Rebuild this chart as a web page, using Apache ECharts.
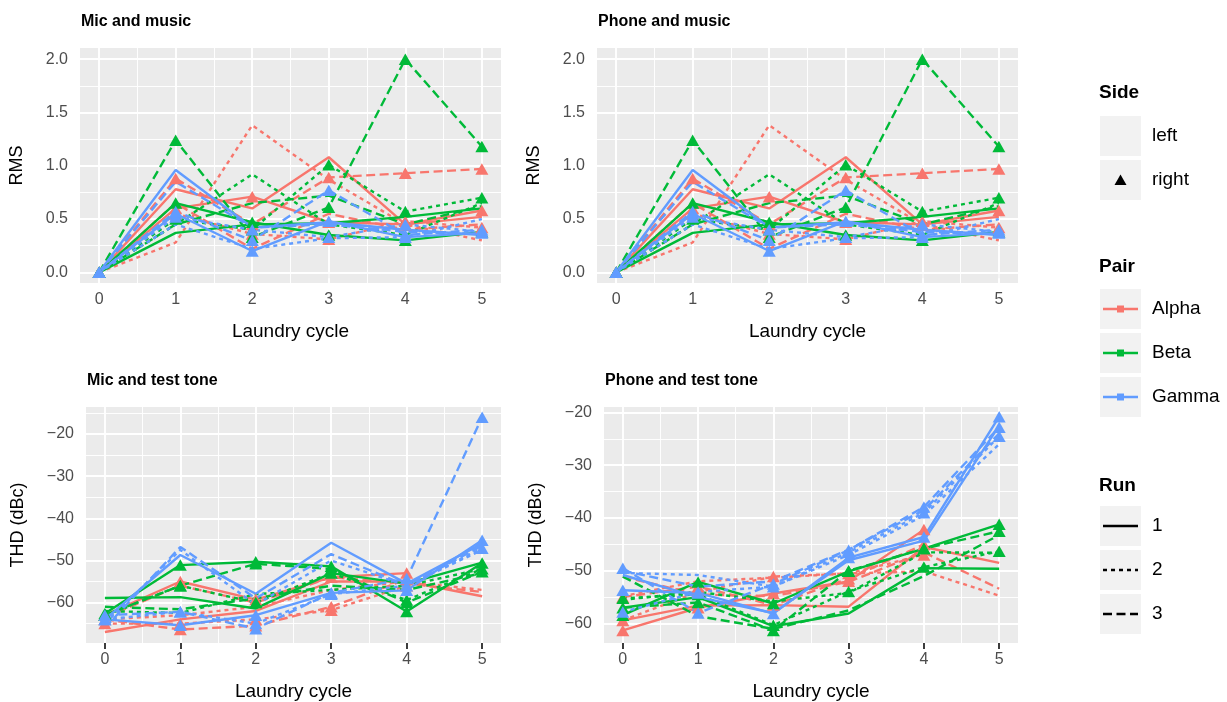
<!DOCTYPE html>
<html><head><meta charset="utf-8">
<script src="https://cdn.jsdelivr.net/npm/echarts@6/dist/echarts.min.js"></script>
<style>html,body{margin:0;padding:0;background:#fff}#c{width:1227px;height:702px}</style>
</head><body><div id="c"></div>
<script>
// ---------- data ----------
const cycles = [0, 1, 2, 3, 4, 5];
const pairNames = ['Alpha', 'Beta', 'Gamma'];
const runNames = ['1', '2', '3'];
const sideNames = ['left', 'right'];
const panelTitles = ['Mic and music', 'Phone and music', 'Mic and test tone', 'Phone and test tone'];
const rmsTicks = [0, 0.5, 1, 1.5, 2];
const thdTicks = [-60, -50, -40, -30, -20];

// rows: run1-left, run1-right, run2-left, run2-right, run3-left, run3-right
const rmsAlpha = [
  [0, 0.78, 0.60, 1.08, 0.45, 0.52],
  [0, 0.60, 0.71, 0.47, 0.45, 0.58],
  [0, 0.28, 1.38, 0.87, 0.45, 0.30],
  [0, 0.55, 0.36, 0.31, 0.48, 0.42],
  [0, 0.65, 0.22, 0.55, 0.40, 0.45],
  [0, 0.88, 0.45, 0.89, 0.93, 0.97]
];
const rmsBeta = [
  [0, 0.37, 0.45, 0.46, 0.52, 0.60],
  [0, 0.65, 0.47, 0.35, 0.30, 0.38],
  [0, 0.45, 0.92, 0.45, 0.35, 0.65],
  [0, 0.50, 0.40, 1.01, 0.57, 0.70],
  [0, 0.45, 0.65, 0.72, 0.45, 0.62],
  [0, 1.24, 0.33, 0.61, 2.00, 1.18]
];
const rmsGamma = [
  [0, 0.96, 0.42, 0.47, 0.40, 0.35],
  [0, 0.55, 0.20, 0.48, 0.33, 0.37],
  [0, 0.45, 0.22, 0.32, 0.33, 0.50],
  [0, 0.52, 0.40, 0.33, 0.45, 0.38],
  [0, 0.85, 0.42, 0.45, 0.38, 0.36],
  [0, 0.57, 0.30, 0.77, 0.35, 0.40]
];
const thdMicAlpha = [
  [-67, -64, -62, -55, -55, -58.5],
  [-63, -55, -59.3, -54, -53, null],
  [-64, -63, -61, -57, -55, -57],
  [-65, -65, -64, -61.8, -56, null],
  [-63.5, -56, -60, -54, -55.5, -57.5],
  [-64, -66.4, -65.5, -61, -54.5, null]
];
const thdMicBeta = [
  [-58.9, -58.7, -61.4, -53, -55.5, -50.5],
  [-62.6, -51.1, -50.3, -51.4, -62.1, -50.6],
  [-62, -62.5, -58, -57, -56, -52],
  [-63, -56, -60, -53, -59.4, -52],
  [-61, -61.6, -59, -56, -57, -53],
  [-63, -56, -50.8, -52, -60, -52.7]
];
const thdMicGamma = [
  [-64, -48.7, -57.9, -45.8, -55.5, -46],
  [-64, -65.4, -63, -57.7, -57.1, -45.2],
  [-65, -47.5, -60.5, -50, -56, -47.5],
  [-64, -62.2, -65, -58, -56, -47.1],
  [-66, -46.8, -59, -48.5, -56, -46.5],
  [-63, -62.2, -66.2, -57.7, -54.3, -16]
];
const thdPhoneAlpha = [
  [-59.4, -56.6, -56.5, -56.8, -45.5, -48.5],
  [-61.3, -57, -54.3, -52, -42.2, null],
  [-54.8, -52, -51.3, -50.5, -50.1, -54.7],
  [-59.4, -54, -51.1, -50.5, -47, null],
  [-51.1, -54.5, -54.8, -52.1, -46.5, -53.4],
  [-55, -53, -56.5, -51.5, -45, null]
];
const thdPhoneBeta = [
  [-57, -55, -60.5, -58.1, -49.5, -49.6],
  [-58.4, -52.1, -56.2, -50.1, -45.8, -41.2],
  [-55.5, -54, -55.8, -54.2, -46.5, -46.6],
  [-55.2, -54.5, -60.3, -53.9, -49.3, -46.3],
  [-51.1, -58.6, -61, -57.5, -51, -43.2],
  [-57, -56, -61.3, -50, -45.8, -42.5]
];
const thdPhoneGamma = [
  [-50.8, -55, -58, -48, -44.3, -22.5],
  [-53.7, -54.2, -58.1, -47.5, -43.6, -20.8],
  [-50.4, -50.8, -53, -47, -39.5, -26],
  [-57.8, -54, -53, -46.5, -39, -24.5],
  [-50, -53, -52, -46, -38.5, -24],
  [-49.5, -58, -52.5, -46.1, -37.9, -22.8]
];

// ---------- styling / layout ----------
const pairColors = ['#F8766D', '#00BA38', '#619CFF'];
const dashTypes = ['solid', [4, 4], [9, 4.5]];
const FONT = 'Liberation Sans, Arial, Helvetica, sans-serif';
const LW = 2.4;

const panelData = [
  [rmsAlpha, rmsBeta, rmsGamma],
  [rmsAlpha, rmsBeta, rmsGamma],
  [thdMicAlpha, thdMicBeta, thdMicGamma],
  [thdPhoneAlpha, thdPhoneBeta, thdPhoneGamma]
];
const grids = [
  {left: 80, top: 48, width: 421, height: 235},
  {left: 597, top: 48, width: 421, height: 235},
  {left: 86, top: 407, width: 415, height: 236},
  {left: 604, top: 407, width: 414, height: 236}
];
const yRanges = [[-0.1, 2.105], [-0.1, 2.105], [-69.6, -13.57], [-63.68, -18.97]];
const yTicks = [rmsTicks, rmsTicks, thdTicks, thdTicks];
const yMinor = [[0.25, 0.75, 1.25, 1.75], [0.25, 0.75, 1.25, 1.75], [-65, -55, -45, -35, -25, -15], [-55, -45, -35, -25]];
const xMinor = [0.5, 1.5, 2.5, 3.5, 4.5];
const yNames = ['RMS', 'RMS', 'THD (dBc)', 'THD (dBc)'];

const xAxes = [], yAxes = [], series = [], titles = [];
for (let p = 0; p < 4; p++) {
  xAxes.push({
    type: 'value', gridIndex: p, min: -0.25, max: 5.25,
    splitLine: {show: false}, axisLine: {show: false},
    axisTick: {show: true, length: 6, lineStyle: {color: '#333333', width: 1.9}, customValues: cycles},
    axisLabel: {customValues: cycles, color: '#4D4D4D', fontSize: 16, fontFamily: FONT, margin: 9},
    name: 'Laundry cycle', nameLocation: 'middle', nameGap: 39,
    nameTextStyle: {color: '#000', fontSize: 19, fontFamily: FONT}
  });
  yAxes.push({
    type: 'value', gridIndex: p, min: yRanges[p][0], max: yRanges[p][1],
    splitLine: {show: false}, axisLine: {show: false},
    axisTick: {show: true, length: 6, lineStyle: {color: '#333333', width: 1.9}, customValues: yTicks[p]},
    axisLabel: {customValues: yTicks[p], color: '#4D4D4D', fontSize: 16, fontFamily: FONT, margin: 12,
      formatter: p < 2 ? (v => Number(v).toFixed(1)) : (v => String(v).replace('-', '\u2212'))},
    name: yNames[p], nameLocation: 'middle', nameRotate: 90, nameGap: p < 2 ? 54 : 59,
    nameTextStyle: {color: '#000', fontSize: 18, fontFamily: FONT}
  });
  titles.push({text: panelTitles[p], left: grids[p].left + 1, top: grids[p].top - 34, padding: 0,
    textStyle: {fontSize: 16, fontWeight: 'bold', color: '#000', fontFamily: FONT}});
  // gridlines (white) through the axes' scales, kept beneath the data
  const ml = [];
  cycles.forEach(v => ml.push({xAxis: v, lineStyle: {width: 1.9}}));
  xMinor.forEach(v => ml.push({xAxis: v, lineStyle: {width: 0.95}}));
  yTicks[p].forEach(v => ml.push({yAxis: v, lineStyle: {width: 1.9}}));
  yMinor[p].forEach(v => ml.push({yAxis: v, lineStyle: {width: 0.95}}));
  series.push({
    type: 'line', xAxisIndex: p, yAxisIndex: p, z: 1, silent: true,
    data: [[0, yTicks[p][0]]], symbol: 'none', lineStyle: {opacity: 0},
    markLine: {z: 1, silent: true, symbol: ['none', 'none'], label: {show: false}, animation: false,
      lineStyle: {color: '#FFFFFF', type: 'solid'}, data: ml}
  });
  for (let i = 0; i < 3; i++) {
    const rows = panelData[p][i];
    for (let k = 0; k < 6; k++) {
      const run = Math.floor(k / 2), side = k % 2;
      const pts = [];
      cycles.forEach((c, j) => { if (rows[k][j] !== null) pts.push([c, rows[k][j]]); });
      series.push({
        type: 'line', name: pairNames[i] + ' run ' + runNames[run] + ' ' + sideNames[side],
        xAxisIndex: p, yAxisIndex: p, z: 10, data: pts,
        symbol: side === 1 ? 'triangle' : 'none', symbolSize: [13, 11.5], showSymbol: side === 1,
        itemStyle: {color: pairColors[i], borderWidth: 0},
        lineStyle: {color: pairColors[i], width: LW, type: dashTypes[run], cap: 'butt'},
        animation: false
      });
    }
  }
}

// ---------- legend (drawn as graphics) ----------
const g = [];
const KX = 1100, KW = 41, KH = 40, LX = 1152;
function keyBox(cy) { g.push({type: 'rect', shape: {x: KX, y: cy - KH / 2, width: KW, height: KH}, style: {fill: '#F2F2F2'}, silent: true}); }
function label(txt, cy) { g.push({type: 'text', x: LX, y: cy, style: {text: txt, fill: '#000', font: '19px ' + FONT, textVerticalAlign: 'middle'}}); }
function head(txt, cy) { g.push({type: 'text', x: KX - 1, y: cy, style: {text: txt, fill: '#000', font: 'bold 19px ' + FONT, textVerticalAlign: 'middle'}}); }
head('Side', 93);
const sideY = [136, 180];
sideY.forEach((cy, s) => {
  keyBox(cy);
  if (s === 1) g.push({type: 'polygon', shape: {points: [[KX + KW / 2 - 6, cy + 5], [KX + KW / 2 + 6, cy + 5], [KX + KW / 2, cy - 5.5]]}, style: {fill: '#000'}});
  label(sideNames[s], cy);
});
head('Pair', 267);
const pairY = [309, 353, 397];
pairY.forEach((cy, i) => {
  keyBox(cy);
  g.push({type: 'line', shape: {x1: KX + 3, y1: cy, x2: KX + KW - 3, y2: cy}, style: {stroke: pairColors[i], lineWidth: LW}});
  g.push({type: 'rect', shape: {x: KX + KW / 2 - 3.5, y: cy - 3.5, width: 7, height: 7}, style: {fill: pairColors[i]}});
  label(pairNames[i], cy);
});
head('Run', 486);
const runY = [526, 570, 614];
runY.forEach((cy, r) => {
  keyBox(cy);
  g.push({type: 'line', shape: {x1: KX + 3, y1: cy, x2: KX + KW - 3, y2: cy},
    style: {stroke: '#000', lineWidth: LW, lineDash: r === 0 ? null : dashTypes[r], lineCap: 'butt'}});
  label(runNames[r], cy);
});

const chart = echarts.init(document.getElementById('c'), null, {renderer: 'canvas'});
chart.setOption({
  animation: false,
  backgroundColor: '#FFFFFF',
  title: titles,
  grid: grids.map(r => Object.assign({backgroundColor: '#EBEBEB', show: true, borderWidth: 0, containLabel: false}, r)),
  xAxis: xAxes, yAxis: yAxes, series: series, graphic: g
});
</script></body></html>
